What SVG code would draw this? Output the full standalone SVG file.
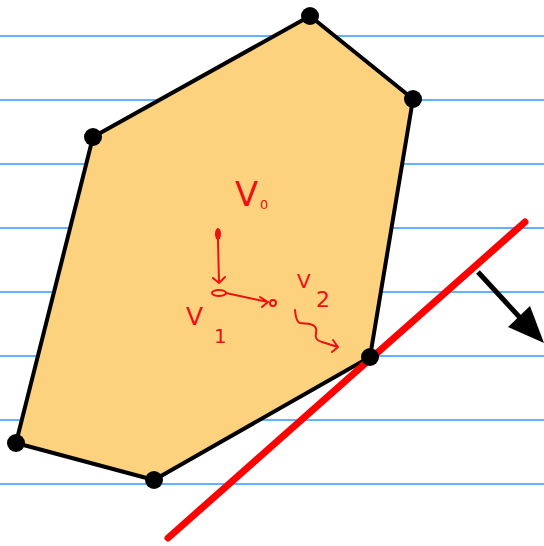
<svg xmlns="http://www.w3.org/2000/svg" width="544" height="546" viewBox="0 0 544 546">
<style>
.rule{stroke:#2b9bff;stroke-width:1.5}
.poly{fill:#fcd27f;stroke:#000;stroke-width:4;stroke-linejoin:round}
.dot{fill:#000}
.ink{fill:none;stroke:#f01010;stroke-width:2;stroke-linecap:round;stroke-linejoin:round}
.lbl{font-family:"DejaVu Sans",sans-serif;fill:#f01010}
</style>
<rect width="544" height="546" fill="#fff"/>
<g id="rules">
<line class="rule" x1="0" y1="36" x2="544" y2="36"/>
<line class="rule" x1="0" y1="100" x2="544" y2="100"/>
<line class="rule" x1="0" y1="164" x2="544" y2="164"/>
<line class="rule" x1="0" y1="228" x2="544" y2="228"/>
<line class="rule" x1="0" y1="292" x2="544" y2="292"/>
<line class="rule" x1="0" y1="356" x2="544" y2="356"/>
<line class="rule" x1="0" y1="420" x2="544" y2="420"/>
<line class="rule" x1="0" y1="484" x2="544" y2="484"/>
</g>
<g id="polygon">
<polygon class="poly" points="310,16 413,99 370,357 154,480 16,443 93,137"/>
</g>
<g id="connectors">
<line x1="168" y1="538" x2="525" y2="222" stroke="#f00" stroke-width="7" stroke-linecap="round"/>
<line x1="478" y1="272" x2="524" y2="322" stroke="#000" stroke-width="5"/>
<polygon points="544,343 508,327 530,306" fill="#000"/>
</g>
<g id="vertices">
<circle class="dot" cx="310" cy="16" r="9"/>
<circle class="dot" cx="413" cy="99" r="9"/>
<circle class="dot" cx="370" cy="357" r="9"/>
<circle class="dot" cx="154" cy="480" r="9"/>
<circle class="dot" cx="16" cy="443" r="9"/>
<circle class="dot" cx="93" cy="137" r="9"/>
</g>
<g id="annotations">
<ellipse cx="218" cy="234" rx="3" ry="6" fill="#f01010"/>
<path class="ink" d="M218,240 L219,283 M213,278 L219,283 L225,277"/>
<ellipse class="ink" cx="219" cy="293" rx="7" ry="3"/>
<path class="ink" d="M226,293 L268,302 M260,297 L268,302 L262,307"/>
<circle class="ink" cx="273" cy="303" r="3"/>
<path class="ink" d="M295,310 Q296,322 300,323 L310,324 Q318,326 316,333 Q314,340 322,342 L338,347 M333,340 L338,347 L332,352"/>
<text class="lbl" x="235" y="206" font-size="34">V</text>
<text class="lbl" x="260" y="209" font-size="13">0</text>
<text class="lbl" x="186" y="325" font-size="25">V</text>
<text class="lbl" x="214" y="343" font-size="20">1</text>
<text class="lbl" x="297" y="288" font-size="20">V</text>
<text class="lbl" x="316" y="307" font-size="22">2</text>
</g>
</svg>
